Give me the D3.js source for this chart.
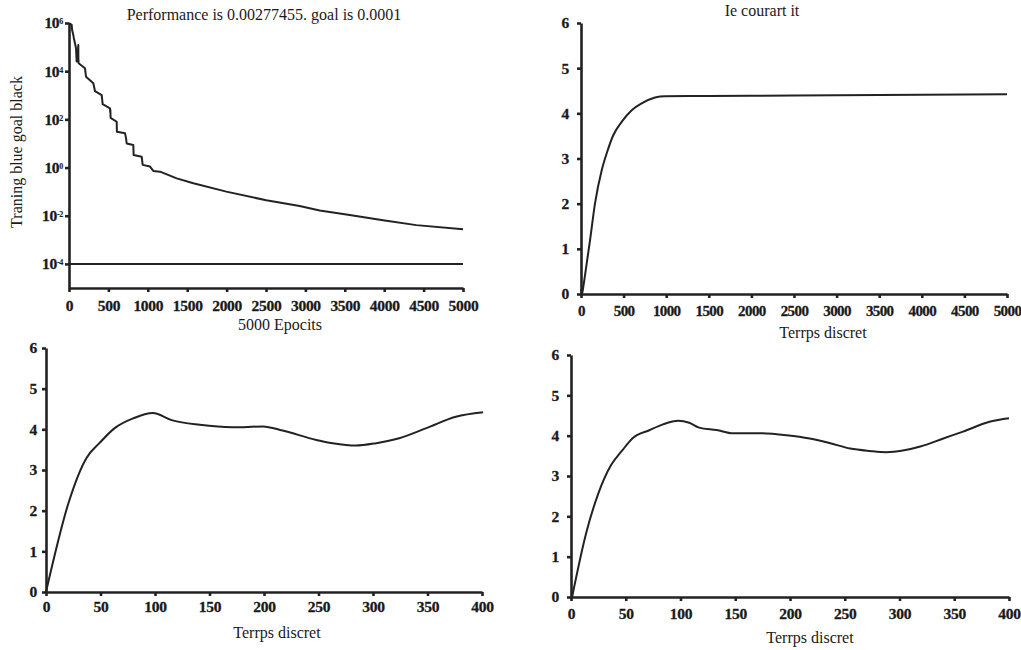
<!DOCTYPE html>
<html>
<head>
<meta charset="utf-8">
<script src="https://cdn.jsdelivr.net/npm/d3@7"></script>
<style>
  body { margin: 0; background: #fff; }
  svg { display: block; }
  text { font-family: "Liberation Serif", serif; fill: #1a1a1a; }
  .domain, .tick line { stroke: #222; stroke-width: 2.6; }
  .curve { fill: none; stroke: #222; stroke-width: 2; stroke-linejoin: round; }
  .label { font-size: 16px; }
</style>
</head>
<body>
<div id="chart"></div>
<script>
// training performance (epoch, log10 of error)
var perfEpochs = [0, 34, 40, 55, 60, 89, 97, 110, 118, 119, 122, 203, 216, 309, 330, 415, 427, 520, 523, 525, 528, 605, 608, 711, 725, 728, 732, 816, 820, 922, 935, 1028, 1070, 1155, 1367, 1578, 1997, 2504, 2927, 3181, 3562, 3985, 4408, 5000];
var perfLog = [6, 5.92, 5.7, 5.5, 5.4, 4.95, 4.4, 4.5, 5.09, 4.55, 4.33, 4.12, 3.77, 3.5, 3.17, 3.01, 2.63, 2.46, 2.3, 2.4, 2.06, 1.9, 1.49, 1.42, 1.2, 1.1, 1.0, 0.94, 0.52, 0.45, 0.11, 0.04, -0.14, -0.17, -0.45, -0.65, -1.0, -1.36, -1.6, -1.78, -1.97, -2.19, -2.39, -2.557];
var goalValue = 1e-4;
var logTicks = [-4, -2, 0, 2, 4, 6];

// current it over 5000 steps
var currentT = [0, 12, 30, 67, 106, 164, 243, 301, 380, 477, 595, 712, 869, 986, 1500, 2000, 3000, 4000, 5000];
var currentV = [0.1, 0, 0.2, 0.68, 1.19, 2.0, 2.74, 3.11, 3.52, 3.81, 4.07, 4.22, 4.35, 4.38, 4.385, 4.39, 4.40, 4.41, 4.42];

// simulated response 1, 400 steps
var sim1T = [0, 21, 37, 49, 63, 80, 98, 116, 141, 171, 199, 217, 248, 263, 284, 303, 324, 349, 376, 401];
var sim1V = [0, 2.22, 3.29, 3.66, 4.03, 4.27, 4.40, 4.22, 4.11, 4.05, 4.07, 3.97, 3.74, 3.66, 3.60, 3.66, 3.78, 4.03, 4.31, 4.42];

// simulated response 2, 400 steps
var sim2T = [1, 13.7, 25, 36.6, 47, 56, 72, 84, 98, 108, 117, 133, 148, 172, 197, 218, 236, 255, 273, 288, 303, 319, 340, 358, 383, 400];
var sim2V = [0, 1.57, 2.57, 3.27, 3.64, 3.93, 4.14, 4.28, 4.37, 4.32, 4.20, 4.14, 4.06, 4.06, 4.01, 3.93, 3.82, 3.68, 3.62, 3.59, 3.63, 3.73, 3.93, 4.10, 4.35, 4.43];

var linTicks = [0, 1, 2, 3, 4, 5, 6];
var longTicks = [0, 500, 1000, 1500, 2000, 2500, 3000, 3500, 4000, 4500, 5000];
var shortTicks = [0, 50, 100, 150, 200, 250, 300, 350, 400];

var svg = d3.select("#chart").append("svg")
    .attr("width", 1021)
    .attr("height", 650);

function zip(xs, ys) {
    return xs.map(function(x, i){ return [x, ys[i]]; });
}

function styleTicks(axisG, size, spacing) {
    axisG.attr("font-family", null).attr("font-size", null);
    axisG.selectAll(".tick text")
        .style("font-family", "'Liberation Serif', serif")
        .style("font-weight", "bold")
        .style("font-size", size + "px")
        .style("letter-spacing", spacing + "px")
        .style("fill", "#1a1a1a")
        .style("stroke", "#1a1a1a")
        .style("stroke-width", "0.3px");
}

function drawAxes(g, x, y, xTicks, yTicks, padX, padY, xSize) {
    var xg = g.append("g")
        .attr("class", "x-axis")
        .attr("transform", "translate(0," + y.range()[0] + ")")
        .call(d3.axisBottom(x).tickValues(xTicks).tickFormat(d3.format("d"))
            .tickSize(4).tickSizeOuter(0).tickPadding(padX));
    styleTicks(xg, xSize || 15.5, xSize ? -0.6 : -0.3);
    var yg = g.append("g")
        .attr("class", "y-axis")
        .attr("transform", "translate(" + x.range()[0] + ",0)")
        .call(d3.axisLeft(y).tickValues(yTicks).tickFormat(d3.format("d"))
            .tickSize(4).tickSizeOuter(0).tickPadding(padY));
    styleTicks(yg, 15.5, -0.3);
}

// ---- panel 1: performance (log scale)
(function() {
    var g = svg.append("g");
    var x = d3.scaleLinear().domain([0, 5000]).range([69, 463]);
    var y = d3.scaleLinear().domain([-5, 6]).range([288, 23]);

    drawAxes(g, x, y, longTicks, logTicks, 8, 2);
    g.select(".y-axis").selectAll(".tick text").text(null)
        .each(function(d) {
            var t = d3.select(this);
            t.append("tspan").text("10");
            t.append("tspan").attr("dy", "-0.5em").style("font-size", "8px")
                .style("stroke-width", "0.1px").text(d);
        });

    g.append("line")
        .attr("class", "curve")
        .attr("x1", x(0)).attr("x2", x(5000))
        .attr("y1", y(Math.log10(goalValue))).attr("y2", y(Math.log10(goalValue)));

    g.append("path")
        .datum(zip(perfEpochs, perfLog))
        .attr("class", "curve")
        .attr("d", d3.line().x(function(d){ return x(d[0]); }).y(function(d){ return y(d[1]); }));

    g.append("text").attr("class", "label").attr("x", 264).attr("y", 20).attr("text-anchor", "middle")
        .attr("font-size", "17px").text("Performance is 0.00277455. goal is 0.0001");
    g.append("text").attr("class", "label").attr("x", 280).attr("y", 330).attr("text-anchor", "middle")
        .text("5000 Epocits");
    g.append("text").attr("class", "label").attr("transform", "translate(22,152) rotate(-90)")
        .attr("text-anchor", "middle").text("Traning blue goal black");
})();

function drawLinearPanel(opt) {
    var g = svg.append("g");
    var x = d3.scaleLinear().domain(opt.xDomain).range(opt.xRange);
    var y = d3.scaleLinear().domain([0, 6]).range(opt.yRange);
    drawAxes(g, x, y, opt.xTicks, linTicks, opt.padX, opt.padY, opt.xSize);
    g.append("path")
        .datum(opt.pts)
        .attr("class", "curve")
        .attr("d", d3.line().curve(d3.curveMonotoneX)
            .x(function(d){ return x(d[0]); }).y(function(d){ return y(d[1]); }));
    if (opt.title) {
        g.append("text").attr("class", "label").attr("x", opt.title.x).attr("y", opt.title.y)
            .attr("text-anchor", "middle").text(opt.title.text);
    }
    g.append("text").attr("class", "label").attr("x", opt.xLabel.x).attr("y", opt.xLabel.y)
        .attr("text-anchor", "middle").text(opt.xLabel.text);
}

drawLinearPanel({
    xDomain: [0, 5000], xTicks: longTicks, xRange: [581, 1007], yRange: [294, 23],
    pts: zip(currentT, currentV), padX: 7, padY: 8, xSize: 15,
    title: {x: 762, y: 16, text: "Ie courart it"}, xLabel: {x: 823, y: 338, text: "Terrps discret"}
});

drawLinearPanel({
    xDomain: [0, 400], xTicks: shortTicks, xRange: [46, 482], yRange: [592, 348],
    pts: zip(sim1T, sim1V), padX: 5, padY: 5,
    xLabel: {x: 277, y: 638, text: "Terrps discret"}
});

drawLinearPanel({
    xDomain: [0, 400], xTicks: shortTicks, xRange: [571, 1009], yRange: [597, 355],
    pts: zip(sim2T, sim2V), padX: 7, padY: 8,
    xLabel: {x: 810, y: 643, text: "Terrps discret"}
});
</script>
</body>
</html>
